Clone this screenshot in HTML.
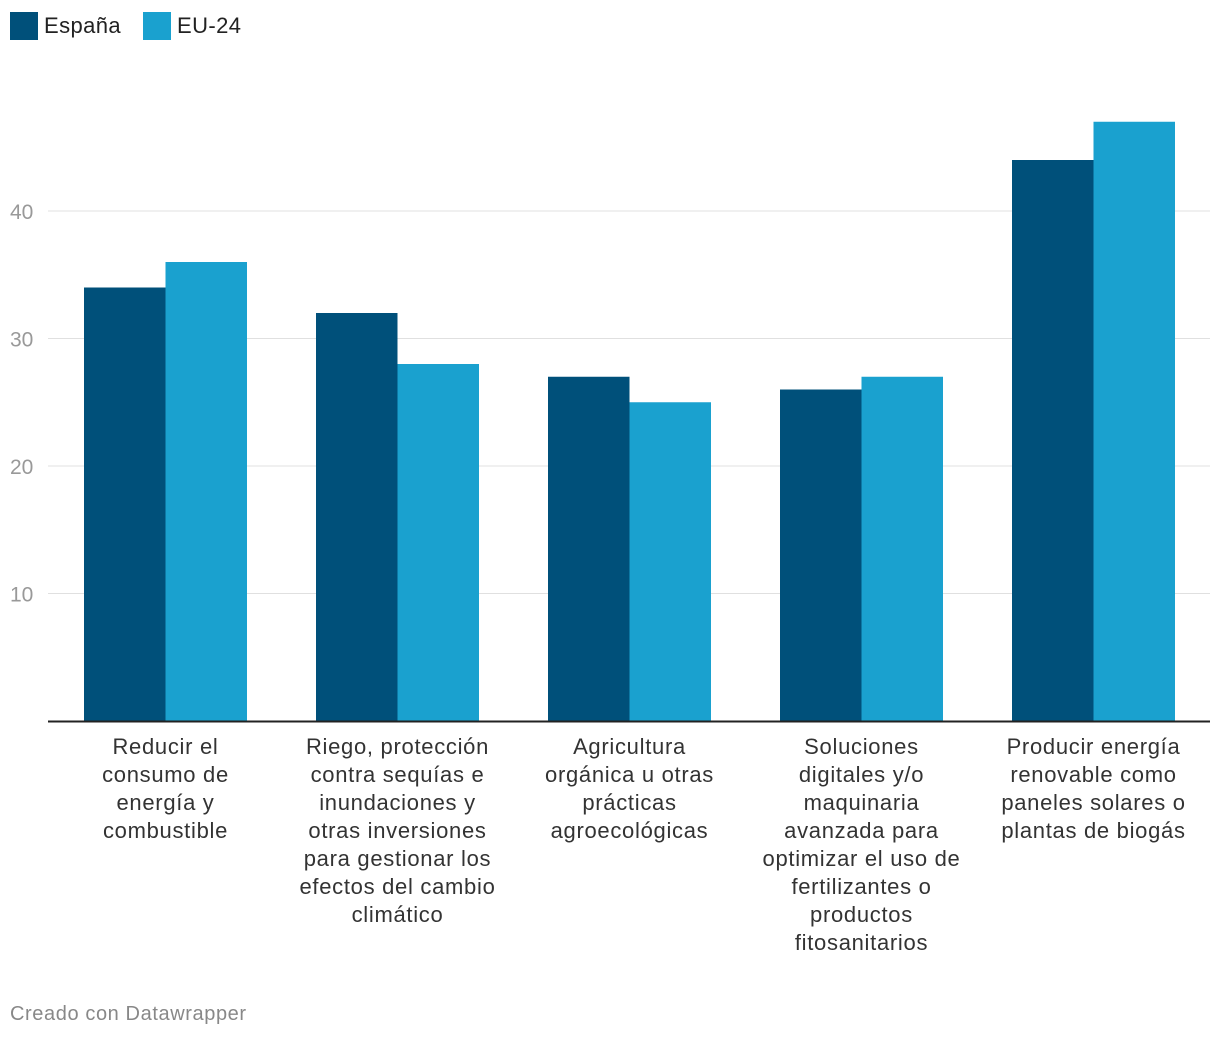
<!DOCTYPE html>
<html><head><meta charset="utf-8"><style>
body{margin:0;background:#fff;font-family:"Liberation Sans",sans-serif;}
#wrap{position:relative;width:1220px;height:1040px;overflow:hidden;}
.leg{position:absolute;top:12px;font-size:22px;color:#222;display:flex;align-items:center;letter-spacing:0.4px;}
.sw{width:28px;height:28px;margin-right:6px;display:inline-block;}
.foot{position:absolute;left:10px;top:1003px;font-size:20px;color:#888;letter-spacing:0.6px;}
</style></head><body>
<div id="wrap">
<div class="leg" style="left:10px"><span class="sw" style="background:#00507a"></span>España</div>
<div class="leg" style="left:143px"><span class="sw" style="background:#1aa1cf"></span>EU-24</div>
<svg id="svg" width="1220" height="1040" style="position:absolute;left:0;top:0"></svg>
<div class="foot">Creado con Datawrapper</div>
</div>
<script>
const categories=[["Reducir el","consumo de","energía y","combustible"],["Riego, protección","contra sequías e","inundaciones y","otras inversiones","para gestionar los","efectos del cambio","climático"],["Agricultura","orgánica u otras","prácticas","agroecológicas"],["Soluciones","digitales y/o","maquinaria","avanzada para","optimizar el uso de","fertilizantes o","productos","fitosanitarios"],["Producir energía","renovable como","paneles solares o","plantas de biogás"]];
const espana=[34,32,27,26,44];
const eu24=[36,28,25,27,47];
const ticks=[10,20,30,40];
const tickLabels=["10","20","30","40"];
const NS="http://www.w3.org/2000/svg";
const svg=document.getElementById('svg');
const y=v=>721-v*12.75;
const x0=84,step=232,bw=81.5;
function mk(t,a){const e=document.createElementNS(NS,t);for(const k in a)e.setAttribute(k,a[k]);svg.appendChild(e);return e;}
ticks.forEach((t,i)=>{
 const l=mk('line',{x1:48,x2:1210,y1:y(t),y2:y(t),stroke:'#e0e0e0','stroke-width':1});
 
 
 const tx=mk('text',{x:10,y:y(t)+8,'font-size':21,fill:'#999','font-family':'Liberation Sans, sans-serif'});
 tx.textContent=tickLabels[i];
 
 
});
categories.forEach((c,i)=>{
 const gx=x0+i*step;
 const b1=mk('rect',{x:gx,y:y(espana[i]),width:bw,height:721-y(espana[i]),fill:'#00507a'});
 
 
 const b2=mk('rect',{x:gx+bw,y:y(eu24[i]),width:bw,height:721-y(eu24[i]),fill:'#1aa1cf'});
 
 
 const t=mk('text',{x:gx+bw,y:754,'font-size':22,fill:'#333','text-anchor':'middle','letter-spacing':0.7,'font-family':'Liberation Sans, sans-serif'});
 
 
 c.forEach((line,j)=>{const s=document.createElementNS(NS,'tspan');s.setAttribute('x',gx+bw);s.setAttribute('dy',j?28:0);s.textContent=line;t.appendChild(s);});
});
const ax=mk('line',{x1:48,x2:1210,y1:721.5,y2:721.5,stroke:'#222','stroke-width':2});


</script>
</body></html>
